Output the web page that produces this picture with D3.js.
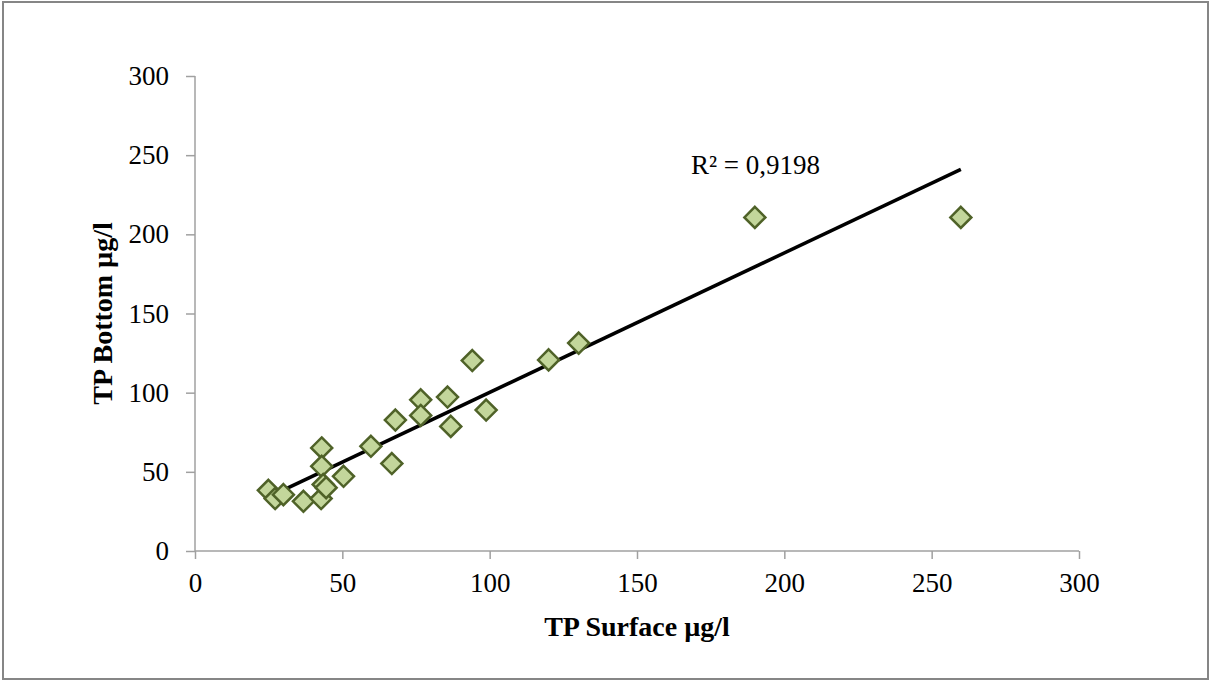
<!DOCTYPE html>
<html>
<head>
<meta charset="utf-8">
<script src="https://cdn.jsdelivr.net/npm/d3@7"></script>
<style>
  body { margin: 0; background: #fff; }
  text { font-family: "Liberation Serif", "Times New Roman", serif; }
</style>
</head>
<body>
<svg id="chart"></svg>
<script>
// TP surface vs bottom
var surface = [24.9, 27.2, 30.0, 36.8, 42.8, 43.0, 43.0, 43.5, 44.5, 50.4, 59.7, 66.8, 68.0,
               76.6, 76.6, 85.7, 86.8, 94.1, 98.8, 120.0, 130.2, 190.0, 259.9];
var bottom  = [38.3, 33.1, 35.6, 31.4, 33.1, 65.1, 53.5, 42.0, 40.0, 47.2, 66.1, 55.2, 82.7,
               95.5, 85.6, 97.2, 78.7, 120.3, 89.0, 120.7, 131.3, 210.7, 210.7];
var ticks = [0, 50, 100, 150, 200, 250, 300];
var r2Label = "R\u00b2 = 0,9198";

var W = 1210, H = 681;
var margin = {top: 76, right: 131, bottom: 130, left: 195};

var svg = d3.select("#chart").attr("width", W).attr("height", H);

// outer chart border
svg.append("rect")
  .attr("x", 3).attr("y", 2)
  .attr("width", W - 5).attr("height", H - 4)
  .attr("fill", "#fff")
  .attr("stroke", "#868686")
  .attr("stroke-width", 2);

var x = d3.scaleLinear().domain([0, 300]).range([margin.left, W - margin.right]);
var y = d3.scaleLinear().domain([0, 300]).range([H - margin.bottom, margin.top]);

var xAxis = svg.append("g")
  .attr("transform", "translate(0," + y(0) + ")")
  .call(d3.axisBottom(x).tickValues(ticks).tickSize(8).tickPadding(14));
var yAxis = svg.append("g")
  .attr("transform", "translate(" + x(0) + ",0)")
  .call(d3.axisLeft(y).tickValues(ticks).tickSize(9).tickPadding(17));

[xAxis, yAxis].forEach(function(g) {
  g.selectAll("path, line").attr("stroke", "#a0a0a0").attr("stroke-width", 1.5);
  g.selectAll("text")
    .attr("fill", "#000")
    .style("font-size", "27px")
    .style("font-family", "Liberation Serif, Times New Roman, serif");
});
// Excel style axes: no end caps
xAxis.select(".domain").attr("d", "M" + x(0) + ",0H" + x(300));
yAxis.select(".domain").attr("d", "M0," + y(0) + "V" + y(300));

// linear trend through the points
var mx = d3.mean(surface), my = d3.mean(bottom);
var sxy = d3.sum(surface, function(v, i) { return (v - mx) * (bottom[i] - my); });
var sxx = d3.sum(surface, function(v) { return (v - mx) * (v - mx); });
var slope = sxy / sxx;
var intercept = my - slope * mx;
var xExt = d3.extent(surface);

svg.append("line")
  .attr("x1", x(xExt[0])).attr("y1", y(intercept + slope * xExt[0]))
  .attr("x2", x(xExt[1])).attr("y2", y(intercept + slope * xExt[1]))
  .attr("stroke", "#000")
  .attr("stroke-width", 3.5);

var points = surface.map(function(v, i) { return {s: v, b: bottom[i]}; });

svg.append("g").selectAll("path")
  .data(points)
  .enter()
  .append("path")
  .attr("transform", function(d) { return "translate(" + x(d.s) + "," + y(d.b) + ")"; })
  .attr("d", "M0,-10.5L10.5,0L0,10.5L-10.5,0Z")
  .attr("fill", "#c3d69b")
  .attr("stroke", "#4f6228")
  .attr("stroke-width", 2.5)
  .attr("stroke-linejoin", "miter");

svg.append("text")
  .attr("x", 691).attr("y", 174)
  .style("font-size", "27px")
  .text(r2Label);

svg.append("text")
  .attr("x", (x(0) + x(300)) / 2)
  .attr("y", 636)
  .attr("text-anchor", "middle")
  .style("font-size", "28px")
  .style("font-weight", "bold")
  .text("TP Surface \u00b5g/l");

svg.append("text")
  .attr("transform", "translate(112," + ((y(0) + y(300)) / 2) + ") rotate(-90)")
  .attr("text-anchor", "middle")
  .style("font-size", "28px")
  .style("font-weight", "bold")
  .text("TP Bottom \u00b5g/l");
</script>
</body>
</html>
